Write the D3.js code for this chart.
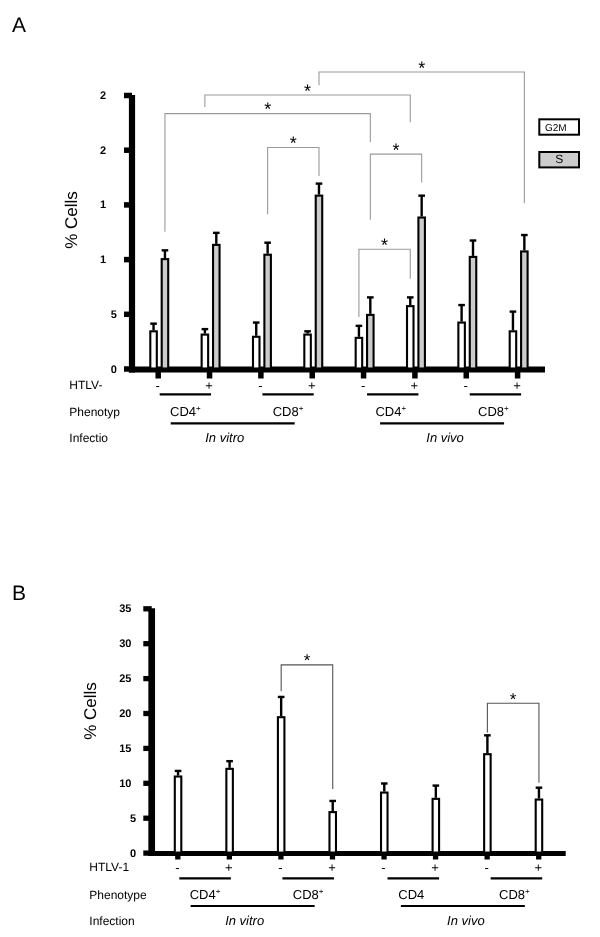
<!DOCTYPE html>
<html><head><meta charset="utf-8">
<script src="https://cdn.jsdelivr.net/npm/d3@7"></script>
<style>
body{margin:0;background:#fff;-webkit-font-smoothing:antialiased}
svg{display:block;will-change:transform}
text{font-family:"Liberation Sans",Arial,Helvetica,sans-serif;fill:#000;text-rendering:geometricPrecision}
</style>
</head><body>
<svg id="chart" width="600" height="937"></svg>
<script>
// ---------------- DATA ----------------
const groupIndex = [0, 1, 2, 3, 4, 5, 6, 7];
const htlvStatus = ["-", "+", "-", "+", "-", "+", "-", "+"];
const infectionLabels = ["In vitro", "In vivo"];

// Panel A
const seriesNamesA = ["G2M", "S"];
const g2mA    = [3.4, 3.1, 2.9, 3.1, 2.8, 5.7, 4.2, 3.4];
const g2mErrA = [0.7, 0.5, 1.3, 0.3, 1.1, 0.8, 1.6, 1.8];
const sA      = [10.0, 11.3, 10.4, 15.8, 4.9, 13.8, 10.2, 10.7];
const sErrA   = [0.8, 1.1, 1.1, 1.1, 1.6, 2.0, 1.5, 1.5];
const yTicksA = [0, 5, 10, 15, 20, 25];
const yTickLabelsA = ["0", "5", "1", "1", "2", "2"];
const rowLabelsA = ["HTLV-", "Phenotyp", "Infectio"];
const phenotypeA = [["CD4", "+"], ["CD8", "+"], ["CD4", "+"], ["CD8", "+"]];
// significance brackets: [group, series] -> [group, series], heights in % units
const bracketsA = [
  {a: [3, 1], b: [7, 1], level: 27.1, endA: 25.9, endB: 15.1},
  {a: [1, 0], b: [5, 0], level: 25.0, endA: 23.9, endB: 22.5},
  {a: [0, 1], b: [4, 1], level: 23.3, endA: 12.5, endB: 20.7},
  {a: [2, 1], b: [3, 1], level: 20.2, endA: 14.1, endB: 17.6},
  {a: [4, 1], b: [5, 1], level: 19.6, endA: 13.6, endB: 17.0},
  {a: [4, 0], b: [5, 0], level: 10.9, endA: 4.7, endB: 8.2}
];

// Panel B
const valuesB = [10.9, 12.0, 19.4, 5.8, 8.6, 7.7, 14.1, 7.6];
const errB    = [0.8, 1.1, 2.9, 1.6, 1.3, 1.9, 2.7, 1.7];
const yTicksB = [0, 5, 10, 15, 20, 25, 30, 35];
const yTickLabelsB = ["0", "5", "10", "15", "20", "25", "30", "35"];
const rowLabelsB = ["HTLV-1", "Phenotype", "Infection"];
const phenotypeB = [["CD4", "+"], ["CD8", "+"], ["CD4", ""], ["CD8", "+"]];
const bracketsB = [
  {a: [2, 0], b: [3, 0], level: 26.9, endA: 23.1, endB: 9.1},
  {a: [6, 0], b: [7, 0], level: 21.4, endA: 17.2, endB: 10.0}
];

// ---------------- DRAWING ----------------
const svg = d3.select("#chart");
const GREY = "#cccccc";

function drawPanel(o) {
  const g = svg.append("g");
  const y = d3.scaleLinear().domain([0, o.yMax]).range([o.y0, o.yTop]);
  const x = d3.scalePoint().domain(groupIndex).range([o.xFirst, o.xLast]);

  // panel letter
  g.append("text").attr("x", 12).attr("y", o.letterY).attr("font-size", 21).text(o.letter);

  // y axis ticks
  const yg = g.append("g").attr("transform", `translate(${o.axisX},0)`)
    .call(d3.axisLeft(y).tickValues(o.ticks).tickSize(o.tickLen).tickSizeOuter(0).tickFormat(""));
  yg.select(".domain").remove();
  yg.selectAll(".tick line").attr("stroke", "#000").attr("stroke-width", o.tickW);

  // y tick labels
  g.selectAll(".ylab").data(o.ticks).join("text")
    .attr("class", "ylab")
    .attr("x", d => d >= 10 ? o.lab2X : o.lab1X)
    .attr("y", d => y(d) + 4)
    .attr("text-anchor", d => d >= 10 ? o.lab2Anchor : "end")
    .attr("font-size", 11).attr("font-weight", "bold")
    .text((d, i) => o.tickLabels[i]);

  // x axis ticks
  const xg = g.append("g").attr("transform", `translate(0,${o.xAxisY})`)
    .call(d3.axisBottom(x).tickSize(o.xTickLen).tickSizeOuter(0).tickFormat(""));
  xg.select(".domain").remove();
  xg.selectAll(".tick line").attr("stroke", "#000").attr("stroke-width", o.tickW);

  // y axis band
  g.append("line").attr("x1", o.axisX).attr("x2", o.axisX)
    .attr("y1", y(o.yMax)).attr("y2", o.xAxisY + o.bandW / 2)
    .attr("stroke", "#000").attr("stroke-width", o.yBandW);
  // x axis band
  g.append("line").attr("x1", o.axisX - o.yBandW / 2).attr("x2", o.xAxisEnd)
    .attr("y1", o.xAxisY).attr("y2", o.xAxisY)
    .attr("stroke", "#000").attr("stroke-width", o.bandW);

  // bars
  const barW = 6.5;
  o.series.forEach((s, si) => {
    const cx = i => x(i) + s.offset;
    const bg = g.append("g");
    bg.selectAll("rect").data(s.values).join("rect")
      .attr("x", (d, i) => cx(i) - barW / 2)
      .attr("y", d => y(d))
      .attr("width", barW)
      .attr("height", d => o.y0 - y(d))
      .attr("fill", s.fill).attr("stroke", "#000").attr("stroke-width", 2.1);
    bg.selectAll("line.eb").data(s.values).join("line").attr("class", "eb")
      .attr("x1", (d, i) => cx(i)).attr("x2", (d, i) => cx(i))
      .attr("y1", d => y(d) - 1).attr("y2", (d, i) => y(d + s.err[i]))
      .attr("stroke", "#000").attr("stroke-width", 2.4);
    bg.selectAll("line.cap").data(s.values).join("line").attr("class", "cap")
      .attr("x1", (d, i) => cx(i) - 3.3).attr("x2", (d, i) => cx(i) + 3.3)
      .attr("y1", (d, i) => y(d + s.err[i])).attr("y2", (d, i) => y(d + s.err[i]))
      .attr("stroke", "#000").attr("stroke-width", 2.4);
  });

  // brackets
  o.brackets.forEach(b => {
    const xa = x(b.a[0]) + o.series[b.a[1]].offset;
    const xb = x(b.b[0]) + o.series[b.b[1]].offset;
    const ly = y(b.level);
    g.append("path")
      .attr("d", `M${xa},${y(b.endA)}V${ly}H${xb}V${y(b.endB)}`)
      .attr("fill", "none").attr("stroke", o.bracketColor).attr("stroke-width", 1.1);
    g.append("text").attr("x", (xa + xb) / 2).attr("y", ly + 1.5)
      .attr("text-anchor", "middle").attr("font-size", o.starSize).text("*");
  });

  // y label
  g.append("text")
    .attr("transform", `translate(${o.yLabelX},${o.yLabelY}) rotate(-90)`)
    .attr("text-anchor", "middle").attr("font-size", 17).text("% Cells");

  // HTLV +/- signs
  g.selectAll(".pm").data(htlvStatus).join("text").attr("class", "pm")
    .attr("x", (d, i) => x(i)).attr("y", o.y0 + o.rows[0] + 1)
    .attr("text-anchor", "middle").attr("font-size", 13).text(d => d);

  // row labels
  [0, 2, 4].forEach((r, k) => {
    g.append("text").attr("x", o.rowLabelX).attr("y", o.y0 + o.rows[r])
      .attr("font-size", 12).text(o.rowLabels[k]);
  });

  // pair lines & phenotype labels
  o.phenotype.forEach((p, k) => {
    const i0 = 2 * k, i1 = 2 * k + 1;
    const shift = k < 2 ? 2 : 4;
    g.append("line").attr("x1", x(i0) + shift).attr("x2", x(i1) + shift)
      .attr("y1", o.y0 + o.rows[1]).attr("y2", o.y0 + o.rows[1])
      .attr("stroke", "#000").attr("stroke-width", 2.2);
    const t = g.append("text").attr("x", (x(i0) + x(i1)) / 2 + 2).attr("y", o.y0 + o.rows[2])
      .attr("text-anchor", "middle").attr("font-size", 13);
    t.append("tspan").text(p[0]);
    if (p[1]) t.append("tspan").attr("dy", -5).attr("font-size", 8).text(p[1]);
  });

  // infection lines & labels
  infectionLabels.forEach((lab, k) => {
    const mid = (x(4 * k) + x(4 * k + 3)) / 2;
    const c = mid + (k === 0 ? -2 : 2);
    g.append("line").attr("x1", c - 62).attr("x2", c + 62)
      .attr("y1", o.y0 + o.rows[3]).attr("y2", o.y0 + o.rows[3])
      .attr("stroke", "#000").attr("stroke-width", 2.2);
    g.append("text").attr("x", mid + (k === 0 ? -10 : 5)).attr("y", o.y0 + o.rows[4])
      .attr("text-anchor", "middle").attr("font-size", 13).attr("font-style", "italic").text(lab);
  });
  return {x, y, g};
}

// Panel A
drawPanel({
  letter: "A", letterY: 32,
  yMax: 25, y0: 368.5, yTop: 95,
  xFirst: 157.7, xLast: 517.1,
  axisX: 132, yBandW: 6.2, tickLen: 8, tickW: 5.5,
  xAxisY: 369.5, bandW: 6, xTickLen: 9, xAxisEnd: 545,
  ticks: yTicksA, tickLabels: yTickLabelsA,
  lab1X: 116.8, lab2X: 100, lab2Anchor: "start",
  series: [
    {name: seriesNamesA[0], values: g2mA, err: g2mErrA, fill: "#fff", offset: -4.15},
    {name: seriesNamesA[1], values: sA, err: sErrA, fill: GREY, offset: 7.25}
  ],
  brackets: bracketsA, bracketColor: "#9a9a9a", starSize: 18,
  yLabelX: 76.5, yLabelY: 220,
  rowLabelX: 69.3, rowLabels: rowLabelsA,
  rows: [20, 25.8, 47.5, 54.8, 73.5],
  phenotype: phenotypeA
});

// legend A
seriesNamesA.forEach((n, i) => {
  const gy = 119.3 + i * 32.7;
  svg.append("rect").attr("x", 539.3).attr("y", gy).attr("width", 39.7).attr("height", 15.4)
    .attr("fill", i === 0 ? "#fff" : GREY).attr("stroke", "#000").attr("stroke-width", 2);
  svg.append("text")
    .attr("x", i === 0 ? 545 : 559.2).attr("y", gy + 11.4)
    .attr("text-anchor", i === 0 ? "start" : "middle")
    .attr("font-size", i === 0 ? 10 : 12).text(n);
});

// Panel B
drawPanel({
  letter: "B", letterY: 600,
  yMax: 35, y0: 852.6, yTop: 608.3,
  xFirst: 177.3, xLast: 538.2,
  axisX: 151.7, yBandW: 6.7, tickLen: 8.4, tickW: 5.3,
  xAxisY: 853.5, bandW: 5, xTickLen: 6, xAxisEnd: 565.7,
  ticks: yTicksB, tickLabels: yTickLabelsB,
  lab1X: 136, lab2X: 131.5, lab2Anchor: "end",
  series: [
    {name: "value", values: valuesB, err: errB, fill: "#fff", offset: 0.75}
  ],
  brackets: bracketsB, bracketColor: "#555", starSize: 17,
  yLabelX: 96, yLabelY: 711,
  rowLabelX: 89.3, rowLabels: rowLabelsB,
  rows: [18.4, 25.7, 46, 53.4, 72.4],
  phenotype: phenotypeB
});
</script>
</body></html>
